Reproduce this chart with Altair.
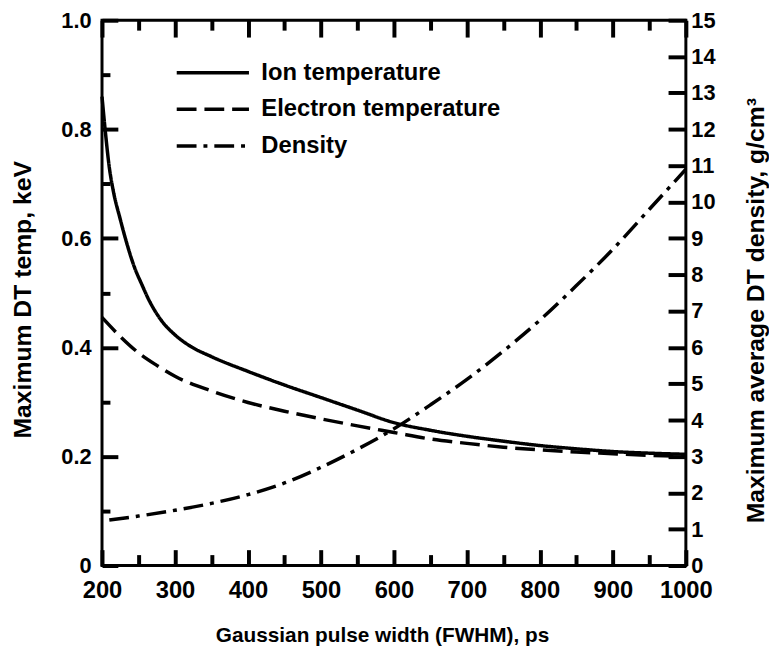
import altair as alt
import pandas as pd

# ---- data ----
ion_x = [200, 205, 210, 215, 225, 232, 245, 254, 265, 281, 300, 320, 350, 400, 450,
         500, 550, 600, 650, 700, 750, 800, 850, 900, 950, 1000]
ion_t = [0.86, 0.79, 0.73, 0.69, 0.635, 0.60, 0.545, 0.517, 0.485, 0.45, 0.423, 0.403,
         0.383, 0.356, 0.331, 0.308, 0.285, 0.262, 0.248, 0.237, 0.228, 0.22, 0.214,
         0.209, 0.206, 0.204]

ele_x = [200, 225, 250, 275, 300, 350, 400, 450, 500, 550, 600, 650, 700, 750, 800,
         850, 900, 950, 1000]
ele_t = [0.455, 0.42, 0.39, 0.367, 0.347, 0.32, 0.299, 0.283, 0.269, 0.256, 0.244,
         0.232, 0.224, 0.217, 0.212, 0.208, 0.205, 0.202, 0.2]

den_x = [210, 250, 300, 350, 400, 450, 500, 550, 600, 650, 700, 750, 800, 850, 900,
         950, 1000]
den_d = [1.25, 1.36, 1.52, 1.71, 1.95, 2.27, 2.70, 3.2, 3.76, 4.42, 5.12, 5.9, 6.75,
         7.7, 8.7, 9.8, 10.9]

series_names = ["Ion temperature", "Electron temperature", "Density"]

x_labels = [200, 300, 400, 500, 600, 700, 800, 900, 1000]
x_minor = [250, 350, 450, 550, 650, 750, 850, 950]
left_labels = [0, 0.2, 0.4, 0.6, 0.8, 1.0]
left_minor = [0.1, 0.3, 0.5, 0.7, 0.9]
right_labels = list(range(0, 16))

# ---- layout ----
W, H = 590, 551
FONT = "Liberation Sans"
TICK = "black"

temp_df = pd.DataFrame({
    "x": ion_x + ele_x,
    "t": ion_t + ele_t,
    "series": [series_names[0]] * len(ion_x) + [series_names[1]] * len(ele_x),
})
den_df = pd.DataFrame({"x": den_x, "d": den_d, "series": [series_names[2]] * len(den_x)})

lab = dict(labelFont=FONT, labelFontWeight="bold", labelColor="black", labelOverlap=False)
ttl = dict(titleFont=FONT, titleFontWeight="bold", titleColor="black",
           titleAlign="center", titleBaseline="middle")
tk = dict(ticks=True, tickColor=TICK, tickWidth=4, tickOpacity=1, domain=False,
          grid=False, zindex=2)

xs = alt.Scale(domain=[200, 1000], nice=False, zero=False)
ysl = alt.Scale(domain=[0, 1], nice=False)
ysr = alt.Scale(domain=[0, 15], nice=False)

# inward ticks: each axis is pulled into the plot by its own tick length
ax_bottom = alt.Axis(
    orient="bottom", values=x_labels, format="d", tickSize=16, offset=-16,
    labelFlush=False, labelFontSize=24, labelPadding=13, **lab, **tk,
    title="Gaussian pulse width (FWHM), ps", titleFontSize=21,
    titleX=283, titleY=87, **ttl,
)
ax_bottom_minor = alt.Axis(orient="bottom", values=x_minor, tickSize=11, offset=-11,
                           labels=False, title=None, **tk)
ax_top = alt.Axis(orient="top", values=x_labels, tickSize=17, offset=-17,
                  labels=False, title=None, **tk)
ax_top_minor = alt.Axis(orient="top", values=x_minor, tickSize=10, offset=-10,
                        labels=False, title=None, **tk)

ax_left = alt.Axis(
    orient="left", values=left_labels, tickSize=16, offset=-16,
    labelExpr="datum.value == 0 ? '0' : format(datum.value, '.1f')",
    labelFontSize=22, labelPadding=11, **lab, **tk,
    title="Maximum DT temp, keV", titleFontSize=25, titleX=-96, titleY=282,
    titleAngle=270, **ttl,
)
ax_left_minor = alt.Axis(orient="left", values=left_minor, tickSize=8, offset=-8,
                         labels=False, title=None, **tk)
ax_right = alt.Axis(
    orient="right", values=right_labels, tickSize=18, offset=-18,
    labelFontSize=22, labelPadding=5, **lab, **tk,
    title="Maximum average DT density, g/cm³", titleFontSize=25,
    titleX=88, titleY=293, titleAngle=270, **ttl,
)

legend = alt.Legend(
    orient="none", legendX=92, legendY=33, direction="vertical", title=None,
    symbolType="M-2,0L2,0", symbolSize=1332, symbolStrokeWidth=3.5,
    symbolStrokeColor="black", symbolFillColor="transparent",
    labelFont=FONT, labelFontSize=24, labelFontWeight="bold", labelColor="black",
    labelOffset=29, rowPadding=5, labelLimit=500,
)
SD = alt.StrokeDash(
    "series:N", sort=series_names,
    scale=alt.Scale(domain=series_names, range=[[1, 0], [20, 8], [20, 7, 4, 7]]),
    legend=legend,
)

line_style = dict(color="black", strokeWidth=3.5, interpolate="monotone", strokeCap="butt")

# visible curves (carry the labelled axes)
temp_lines = alt.Chart(temp_df).mark_line(**line_style).encode(
    x=alt.X("x:Q", scale=xs, axis=ax_bottom),
    y=alt.Y("t:Q", scale=ysl, axis=ax_left),
    strokeDash=SD,
)
den_line = alt.Chart(den_df).mark_line(**line_style).encode(
    x=alt.X("x:Q", scale=xs, axis=ax_top),
    y=alt.Y("d:Q", scale=ysr, axis=ax_right),
    strokeDash=SD,
)
# transparent copies that only carry the minor-tick axes
temp_minor = alt.Chart(temp_df).mark_line(opacity=0).encode(
    x=alt.X("x:Q", scale=xs, axis=ax_bottom_minor),
    y=alt.Y("t:Q", scale=ysl, axis=ax_left_minor),
    detail="series:N",
)
den_minor = alt.Chart(den_df).mark_line(opacity=0).encode(
    x=alt.X("x:Q", scale=xs, axis=ax_top_minor),
    y=alt.Y("d:Q", scale=ysr, axis=None),
)

chart = alt.layer(temp_lines, den_line, temp_minor, den_minor).resolve_scale(
    y="independent"
).resolve_axis(x="independent", y="independent").properties(
    width=W, height=H,
    autosize=alt.AutoSizeParams(type="none"),
    padding={"left": 95, "top": 9, "right": 84, "bottom": 80},
).configure_view(stroke="black", strokeWidth=3)

chart.save("out.html", embed_options={"renderer": "svg", "actions": False})
